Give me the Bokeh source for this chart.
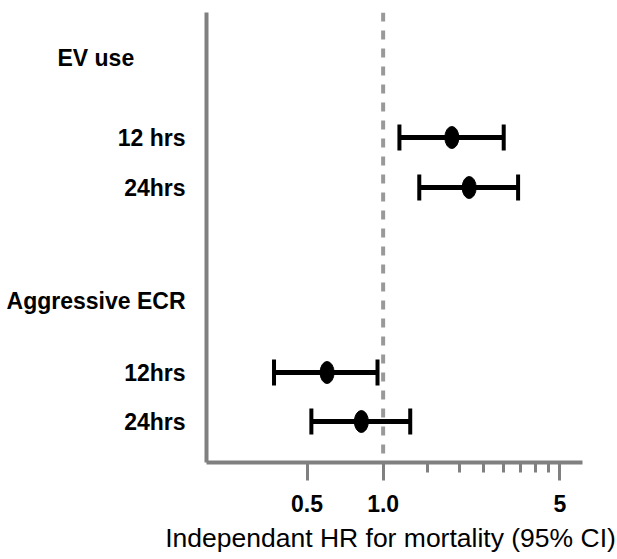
from bokeh.plotting import figure
from bokeh.layouts import row, column
from bokeh.models import (ColumnDataSource, Range1d, FixedTicker, Span, Whisker,
                          TeeHead)
from bokeh.core.properties import value
from bokeh.embed import file_html
from bokeh.resources import INLINE

# ---- data ----
groups = ["EV use", "Aggressive ECR"]
row_labels = ["12 hrs", "24hrs", "12hrs", "24hrs"]
hr = [1.87, 2.19, 0.60, 0.82]
ci_low = [1.16, 1.39, 0.37, 0.52]
ci_high = [3.00, 3.42, 0.95, 1.28]
x_ticks = [0.5, 1.0, 5.0]
x_tick_labels = ["0.5", "1.0", "5"]
x_minor = [1.5, 2.0, 2.5, 3.0, 3.5, 4.0, 4.5]
axis_title = "Independant HR for mortality (95% CI)"

# ---- layout (row positions, top = 0) ----
group_pos = [0.9, 5.76]
row_pos = [2.5, 3.5, 7.2, 8.18]

FONT = "Liberation Sans"
GREY = "#808080"
TOP_H = 517
BOT_H = 41
LEFT_W = 198
RIGHT_W = 411
FRAME_TOP = 12
FRAME_H = 450

yr = Range1d(9, 0)

# ---------- left label panel ----------
left = figure(width=LEFT_W, height=TOP_H, x_range=Range1d(0, LEFT_W), y_range=yr,
              output_backend="svg", toolbar_location=None,
              min_border_left=0, min_border_right=0,
              min_border_top=FRAME_TOP, min_border_bottom=TOP_H - FRAME_TOP - FRAME_H)
left.axis.visible = False
left.grid.visible = False
left.outline_line_color = None

lab_src = ColumnDataSource(dict(
    x=[LEFT_W - 13] * 5,
    y=[group_pos[1]] + row_pos,
    t=[groups[1]] + row_labels))
left.text(x="x", y="y", text="t", source=lab_src, text_font=value(FONT),
          text_font_style="bold", text_font_size="23px", text_align="right",
          text_baseline="middle", text_color="black")
left.text(x=[57], y=[group_pos[0]], text=[groups[0]], text_font=value(FONT),
          text_font_style="bold", text_font_size="23px", text_align="left",
          text_baseline="middle", text_color="black")

# ---------- main forest plot ----------
src = ColumnDataSource(dict(y=row_pos, hr=hr, lo=ci_low, hi=ci_high))

p = figure(width=RIGHT_W, height=TOP_H, x_axis_type="log",
           x_range=Range1d(0.2, 6.15), y_range=yr,
           output_backend="svg", toolbar_location=None,
           min_border_left=8, min_border_right=27,
           min_border_top=FRAME_TOP, min_border_bottom=TOP_H - FRAME_TOP - FRAME_H)
p.outline_line_color = None
p.xgrid.visible = False
p.ygrid.visible = False

xa = p.xaxis[0]
xa.ticker = FixedTicker(ticks=x_ticks, minor_ticks=x_minor)
xa.major_label_overrides = {t: l for t, l in zip(x_ticks, x_tick_labels)}
xa.axis_line_color = GREY
xa.axis_line_width = 4
xa.major_tick_line_color = GREY
xa.major_tick_line_width = 3
xa.major_tick_out = 18
xa.major_tick_in = 0
xa.minor_tick_line_color = GREY
xa.minor_tick_line_width = 3
xa.minor_tick_out = 10
xa.minor_tick_in = 0
xa.major_label_text_font = FONT
xa.major_label_text_font_style = "bold"
xa.major_label_text_font_size = "23px"
xa.major_label_text_color = "black"
xa.major_label_standoff = 14

ya = p.yaxis[0]
ya.ticker = FixedTicker(ticks=[], minor_ticks=[])
ya.axis_line_color = GREY
ya.axis_line_width = 4
ya.major_tick_line_color = None
ya.minor_tick_line_color = None
ya.major_label_text_font_size = "0px"
ya.major_label_standoff = 0

p.add_layout(Span(location=1.0, dimension="height", line_color="#999999",
                  line_width=4, line_dash="9 9"))

w = Whisker(base="y", lower="lo", upper="hi", dimension="width", source=src,
            line_color="black", line_width=5,
            lower_head=TeeHead(size=26, line_width=4, line_color="black"),
            upper_head=TeeHead(size=26, line_width=4, line_color="black"))
p.add_layout(w)

p.ellipse(x="hr", y="y", width=14, height=22, width_units="screen",
          height_units="screen", fill_color="black", line_color="black",
          source=src)

# ---------- axis title strip ----------
BOT_W = 616
bot = figure(width=BOT_W, height=BOT_H, x_range=Range1d(0, BOT_W),
             y_range=Range1d(0, BOT_H), output_backend="svg", toolbar_location=None,
             min_border=0)
bot.axis.visible = False
bot.grid.visible = False
bot.outline_line_color = None
bot.text(x=[390], y=[BOT_H - 20], text=[axis_title], text_font=value(FONT),
         text_font_size="26.5px", text_align="center", text_baseline="middle",
         text_color="black")

layout = column(row(left, p), bot)
open("out.html", "w").write(file_html(layout, INLINE))
